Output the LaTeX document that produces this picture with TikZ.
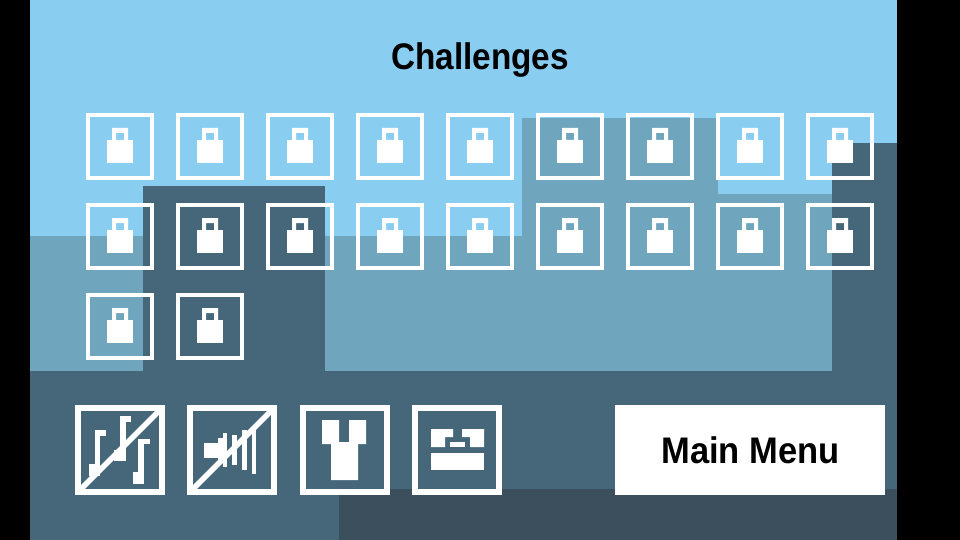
\documentclass[tikz,border=0pt]{standalone}
\usepackage{fontspec}
\setmainfont{Liberation Sans}
\definecolor{skycol}{HTML}{89CDF1}
\definecolor{midcol}{HTML}{6FA5BD}
\definecolor{darkcol}{HTML}{456779}
\definecolor{deepcol}{HTML}{3B4F5C}
\tikzset{
  lockbox/.style={draw=white,line width=4pt},
  iconbox/.style={draw=white,line width=6pt},
  icon/.style={fill=white},
  slash/.style={draw=white,line width=5.6pt},
  label/.style={anchor=base,inner sep=0pt,font=\fontsize{37}{37}\bfseries}
}

\begin{document}
\begin{tikzpicture}[x=1pt,y=-1pt]
  \useasboundingbox (0,0) rectangle (960,540);
  % backdrop
  \fill[black] (0,0) rectangle (960,540);
  \fill[skycol] (30,0) rectangle (897,540);
  \fill[midcol] (30,236) rectangle (143,371);
  \fill[midcol] (522,118) rectangle (718,371);
  \fill[midcol] (718,194) rectangle (832,371);
  \fill[midcol] (325,236) rectangle (522,371);
  \fill[darkcol] (143,186) rectangle (325,371);
  \fill[darkcol] (832,143) rectangle (897,371);
  \fill[darkcol] (30,371) rectangle (897,540);
  \fill[deepcol] (339,489) rectangle (897,540);
  \node[label] (title) at (480,69.3) {\scalebox{0.9}[1]{Challenges}};
  % challenge locks
  \foreach \row/\ytop/\num in {0/113/9,1/203/9,2/293/2} {
    \foreach \col in {1,...,\num} {
      \pgfmathsetmacro{\xl}{86+90*(\col-1)}
      \begin{scope}[shift={(\xl,\ytop)}]
        \draw[lockbox] (2,2) rectangle (66,65);
        \fill[icon,even odd rule] (26,15) rectangle (42,27) (30,20) rectangle (38,27);
        \fill[icon] (21,27) rectangle (47,50);
      \end{scope}
    }
  }
  % music off
  \draw[iconbox] (78,408) rectangle (162,492);
  \fill[icon] (89,464) rectangle (100,476);
  \fill[icon] (95,430) rectangle (100,464);
  \fill[icon] (95,430) rectangle (106,436);
  \fill[icon] (114,450) rectangle (126,461);
  \fill[icon] (120,416) rectangle (126,450);
  \fill[icon] (120,416) rectangle (131,422);
  \fill[icon] (133,472) rectangle (144,484);
  \fill[icon] (138,439) rectangle (144,472);
  \fill[icon] (138,439) rectangle (150,444);
  \draw[slash] (81,489) -- (159,411);
  % sound off
  \draw[iconbox] (190,408) rectangle (274,492);
  \fill[icon] (204,443) rectangle (218,458);
  \fill[icon] (218,438) rectangle (223,463);
  \fill[icon] (223,433) rectangle (227,467);
  \fill[icon] (232,435) rectangle (237,465);
  \fill[icon] (242,430) rectangle (247,470);
  \fill[icon] (252,426) rectangle (256,474);
  \draw[slash] (193,489) -- (271,411);
  % shirt
  \draw[iconbox] (303,408) rectangle (387,492);
  \fill[icon] (322,420) -- (339,420) -- (339,442) -- (349,442) -- (349,420) -- (366,420)
    -- (366,444) -- (358,444) -- (358,480) -- (331,480) -- (331,444) -- (322,444) -- cycle;
  % face
  \draw[iconbox] (415,408) rectangle (499,492);
  \fill[icon] (431,429) -- (453,429) -- (453,437) -- (445,437) -- (445,447) -- (431,447) -- cycle;
  \fill[icon] (462,429) -- (484,429) -- (484,447) -- (470,447) -- (470,437) -- (462,437) -- cycle;
  \fill[icon] (450,442) rectangle (465,447);
  \fill[icon] (431,453) rectangle (484,470);
  % main menu
  \fill[white] (615,405) rectangle (885,495);
  \node[label] (mainmenu) at (750.5,463.3) {\scalebox{0.933}[1]{Main Menu}};
\end{tikzpicture}
\end{document}
